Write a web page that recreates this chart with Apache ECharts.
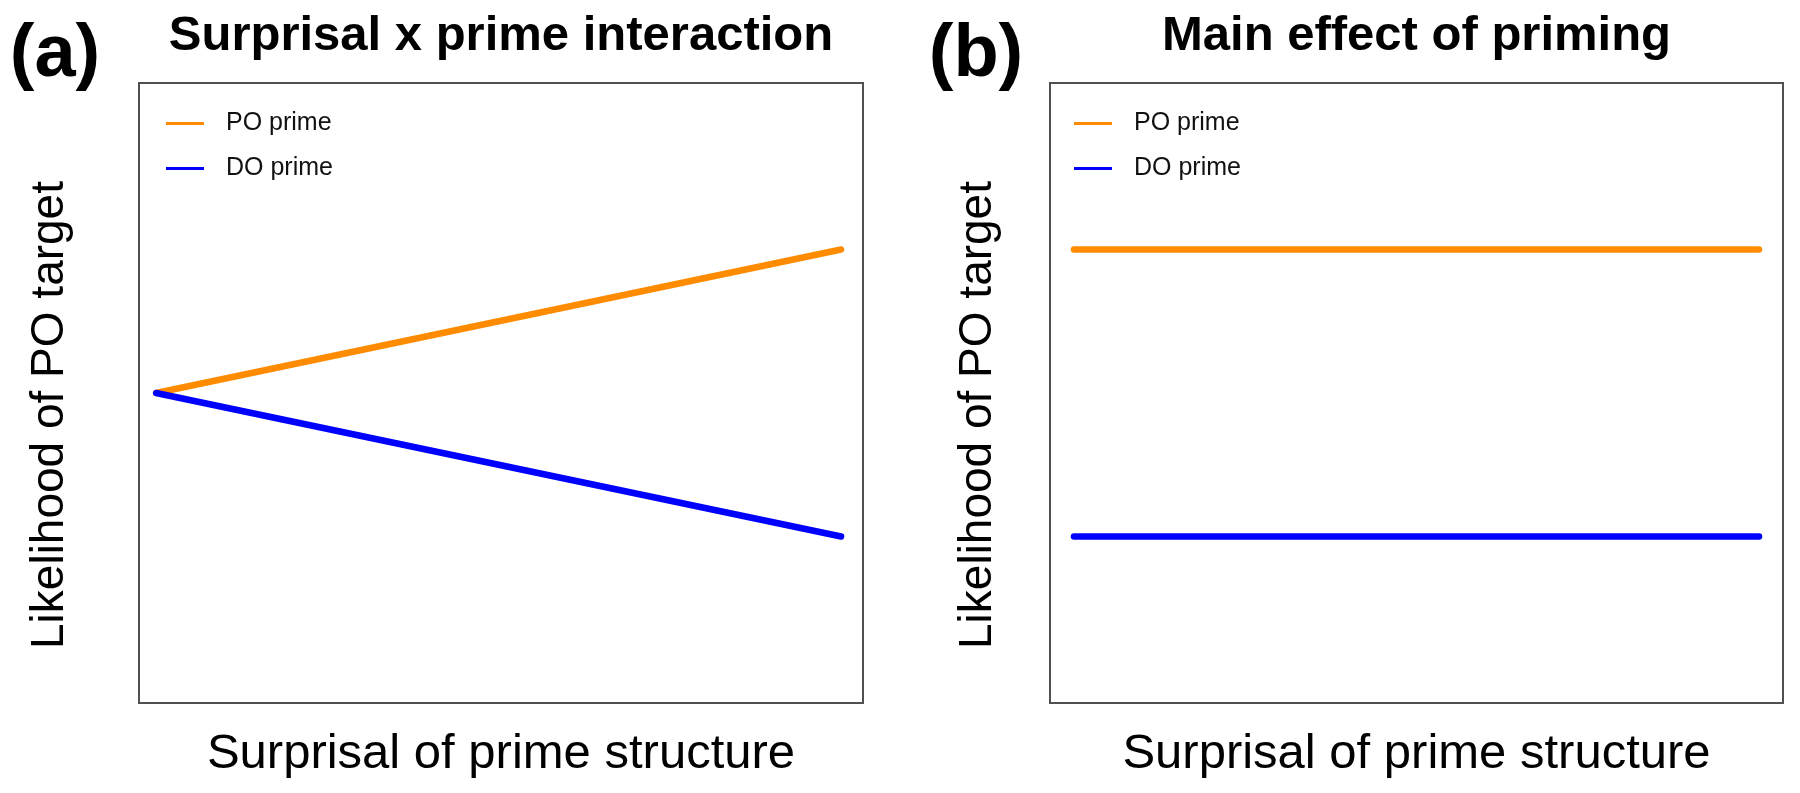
<!DOCTYPE html>
<html>
<head>
<meta charset="utf-8">
<script src="https://cdn.jsdelivr.net/npm/echarts@6/dist/echarts.min.js"></script>
<style>
html,body{margin:0;padding:0;background:#fff;}
#main{width:1800px;height:793px;}
</style>
</head>
<body>
<div id="main"></div>
<script>
// Data
const panelTitles = ['Surprisal x prime interaction', 'Main effect of priming'];
const panelTags = ['(a)', '(b)'];
const seriesNames = ['PO prime', 'DO prime'];
const xLabel = 'Surprisal of prime structure';
const yLabel = 'Likelihood of PO target';
const xPoints = [0, 1];
// panel (a): interaction
const aPO = [0.5, 0.75];
const aDO = [0.5, 0.25];
// panel (b): main effect
const bPO = [0.75, 0.75];
const bDO = [0.25, 0.25];

const colors = ['#FF8C00', '#0000FF'];
const FONT = '"Liberation Sans", Arial, Helvetica, sans-serif';

const grids = [
  {left: 139, top: 83, width: 724, height: 620},
  {left: 1050, top: 83, width: 733, height: 620}
];
const xRanges = [[-0.025, 1.032], [-0.035, 1.035]];
const legendLeft = [161, 1069];
const yLabelX = [50, 978];

function pairs(xs, ys){ return xs.map((x,i)=>[x, ys[i]]); }

const chart = echarts.init(document.getElementById('main'));

const xAxes = grids.map((g,i)=>({
  type:'value', gridIndex:i, min:xRanges[i][0], max:xRanges[i][1],
  axisLine:{show:false}, axisTick:{show:false}, axisLabel:{show:false}, splitLine:{show:false}
}));
const yAxes = grids.map((g,i)=>({
  type:'value', gridIndex:i, min:-0.04, max:1.04,
  axisLine:{show:false}, axisTick:{show:false}, axisLabel:{show:false}, splitLine:{show:false}
}));

const panelData = [[aPO, aDO], [bPO, bDO]];
const series = [];
panelData.forEach((pd, gi)=>{
  pd.forEach((ys, si)=>{
    series.push({
      type:'line', name: seriesNames[si], xAxisIndex:gi, yAxisIndex:gi,
      data: pairs(xPoints, ys), showSymbol:false, symbol:'none',
      lineStyle:{color:colors[si], width:6.5, cap:'round'},
      itemStyle:{color:colors[si]},
      animation:false, silent:true
    });
  });
});

const legends = grids.map((g,i)=>({
  data: seriesNames, orient:'vertical', left: legendLeft[i], top: 106,
  icon:'rect', itemWidth:38, itemHeight:3, itemGap:20,
  textStyle:{fontFamily:FONT, fontSize:25, color:'#111', padding:[0,0,0,17]},
  selectedMode:false
}));

const graphic = [];
grids.forEach((g, i)=>{
  const cx = g.left + g.width/2;
  graphic.push({type:'text', x: cx, y: 36, style:{text: panelTitles[i], font:'bold 49px ' + FONT, fill:'#000', textAlign:'center', textVerticalAlign:'middle'}});
  graphic.push({type:'text', x: i === 0 ? 55 : 976, y: 56, style:{text: panelTags[i], font:'bold 74px ' + FONT, fill:'#000', textAlign:'center', textVerticalAlign:'middle'}});
  graphic.push({type:'text', x: cx, y: 754, style:{text: xLabel, font:'49px ' + FONT, fill:'#000', textAlign:'center', textVerticalAlign:'middle'}});
  graphic.push({type:'text', x: yLabelX[i], y: g.top + g.height/2 + 22, rotation: Math.PI/2, style:{text: yLabel, font:'46px ' + FONT, fill:'#000', textAlign:'center', textVerticalAlign:'middle'}});
});

chart.setOption({
  backgroundColor:'#fff',
  animation:false,
  grid: grids.map(g=>Object.assign({show:true, borderColor:'#505050', borderWidth:2, backgroundColor:'transparent'}, g)),
  xAxis: xAxes,
  yAxis: yAxes,
  legend: legends,
  series: series,
  graphic: graphic
});
</script>
</body>
</html>
